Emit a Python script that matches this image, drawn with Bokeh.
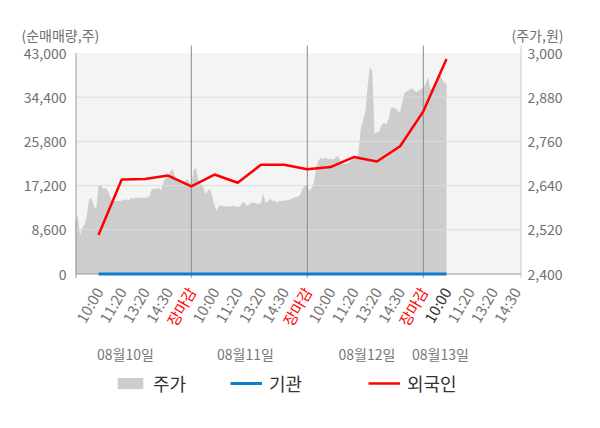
from bokeh.plotting import figure
from bokeh.models import Range1d, Legend, LegendItem
from bokeh.core.properties import value
from bokeh.embed import file_html
from bokeh.resources import INLINE

FONT = "Noto Sans CJK KR"

# ---------------- data ----------------
dates = ["08월10일", "08월11일", "08월12일", "08월13일"]
x_tick_labels = ["10:00", "11:20", "13:20", "14:30", "장마감",
                 "10:00", "11:20", "13:20", "14:30", "장마감",
                 "10:00", "11:20", "13:20", "14:30", "장마감",
                 "10:00", "11:20", "13:20", "14:30"]
left_ticks = [0, 8600, 17200, 25800, 34400, 43000]
right_ticks = [2400, 2520, 2640, 2760, 2880, 3000]

price_day1 = [2540, 2560, 2505, 2525, 2535, 2560, 2605, 2604, 2585, 2574,
              2640, 2640, 2630, 2634, 2626, 2610, 2595, 2598, 2599, 2599,
              2599, 2602, 2602, 2600, 2607, 2604, 2607, 2607, 2607, 2607,
              2607, 2607, 2612, 2630, 2632, 2630, 2634, 2626, 2650, 2660,
              2665, 2678, 2685, 2660, 2656, 2652, 2648, 2650, 2658, 2652]
price_day2 = [2640, 2682, 2688, 2654, 2645, 2640, 2617, 2625, 2632, 2612,
              2585, 2572, 2586, 2586, 2583, 2583, 2583, 2583, 2586, 2584,
              2582, 2584, 2594, 2594, 2585, 2588, 2594, 2594, 2592, 2590,
              2592, 2619, 2594, 2597, 2605, 2598, 2599, 2595, 2599, 2598,
              2599, 2600, 2601, 2603, 2608, 2608, 2610, 2616, 2632, 2642]
price_day3 = [2640, 2625, 2635, 2654, 2695, 2710, 2715, 2712, 2717, 2711,
              2713, 2711, 2715, 2721, 2712, 2699, 2699, 2699, 2703, 2710,
              2715, 2712, 2726, 2795, 2817, 2840, 2910, 2963, 2949, 2780,
              2785, 2787, 2804, 2810, 2806, 2820, 2850, 2852, 2850, 2842,
              2840, 2870, 2892, 2896, 2900, 2904, 2900, 2893, 2898, 2902]
price_day4 = [2905, 2917, 2935, 2905, 2901, 2903, 2920, 2945, 2930, 2920, 2917]

foreign = [7600, 18400, 18500, 19150, 17050, 19350, 17750, 21250,
           21250, 20400, 20800, 22750, 21900, 24850, 31650, 41850]
institution = [0, 0, 0, 0, 0, 0, 0, 0, 0, 0, 0, 0, 0, 0, 0, 0]

# ---------------- derived positions ----------------
DAY_UNITS = 5
SAMPLES_PER_DAY = 50
price_x, price_y = [], []
for d, arr in enumerate([price_day1, price_day2, price_day3, price_day4]):
    for i, v in enumerate(arr):
        price_x.append(d * DAY_UNITS + i * DAY_UNITS / SAMPLES_PER_DAY)
        price_y.append(v)
flow_x = list(range(1, len(foreign) + 1))
tick_x = list(range(1, len(x_tick_labels) + 1))
day_bounds = [DAY_UNITS * k for k in range(1, len(dates))]

# ---------------- geometry (page pixels) ----------------
W, H = 600, 428
PLOT_L, PLOT_R = 75.5, 520.5      # plot-area edges
ZERO_Y, TOP_Y = 273.5, 52.5       # y of 0 and of 43,000 / 3,000
FRAME_TOP = 45                    # top of day separators / right axis line
X0, X1 = 0.03, 19.21              # x extent of plot area (data units)

ux = (PLOT_R - PLOT_L) / (X1 - X0)
uy = (ZERO_Y - TOP_Y) / left_ticks[-1]
up = (ZERO_Y - TOP_Y) / (right_ticks[-1] - right_ticks[0])


def xd(px):
    return X0 + (px - PLOT_L) / ux


def yd(py):
    return (ZERO_Y - py) / uy


p = figure(width=W, height=H, output_backend="svg", toolbar_location=None,
           x_range=Range1d(xd(0), xd(W)), y_range=Range1d(yd(H), yd(0)),
           min_border=0, outline_line_color=None,
           background_fill_color="white", border_fill_color="white")
p.extra_y_ranges = {"price": Range1d(right_ticks[0] - (H - ZERO_Y) / up,
                                     right_ticks[0] + ZERO_Y / up)}
p.axis.visible = False
p.grid.visible = False

# plot background band
p.quad(left=X0, right=X1, bottom=0, top=left_ticks[-1],
       fill_color="#f4f4f4", line_color=None)

# price area
area = p.varea(x=price_x, y1=right_ticks[0], y2=price_y, y_range_name="price",
               fill_color="#cdcdcd")

# grid lines and day separators
p.segment(x0=X0, x1=X1, y0=left_ticks[1:-1], y1=left_ticks[1:-1],
          line_color="#dcdcdc", line_width=1)
p.segment(x0=day_bounds, x1=day_bounds, y0=0, y1=yd(FRAME_TOP),
          line_color="#8a8a8a", line_width=1)

# axes lines and small ticks
p.segment(x0=[X0], x1=[X0], y0=[yd(ZERO_Y + 4)], y1=[left_ticks[-1]],
          line_color="#999999", line_width=1)
p.segment(x0=[X1], x1=[X1], y0=[yd(ZERO_Y + 4)], y1=[yd(FRAME_TOP)],
          line_color="#cccccc", line_width=1)
p.segment(x0=[X0], x1=[X1], y0=[0], y1=[0], line_color="#999999", line_width=1)
p.segment(x0=day_bounds, x1=day_bounds, y0=0, y1=yd(ZERO_Y + 4),
          line_color="#999999", line_width=1)

# investor flows
blue = p.line(flow_x, institution, line_color="#0e7dca", line_width=3)
red = p.line(flow_x, foreign, line_color="#ff0000", line_width=2.5)

# y tick labels
p.text(x=xd(66), y=left_ticks, text=[f"{v:,}" for v in left_ticks],
       text_align="right", text_baseline="middle", text_font=value(FONT),
       text_font_size="14px", text_color="#707070")
p.text(x=xd(527), y=right_ticks, text=[f"{v:,}" for v in right_ticks],
       y_range_name="price", text_align="left", text_baseline="middle",
       text_font=value(FONT), text_font_size="14px", text_color="#707070")

# unit titles
p.text(x=[xd(21)], y=[yd(34)], text=["(순매매량,주)"], text_align="left",
       text_baseline="middle", text_font=value(FONT), text_font_size="14px",
       text_color="#707070")
p.text(x=[xd(563)], y=[yd(34)], text=["(주가,원)"], text_align="right",
       text_baseline="middle", text_font=value(FONT), text_font_size="14px",
       text_color="#707070")

# rotated time labels
tick_colors = ["#ff0000" if t == "장마감" else "#777777" for t in x_tick_labels]
tick_colors[len(foreign) - 1] = "#333333"
p.text(x=tick_x, y=yd(288), text=x_tick_labels, text_color=tick_colors,
       angle=60, angle_units="deg", text_align="right", text_baseline="middle",
       text_font=value(FONT), text_font_size="15px")

# date labels
date_pos = [xd(125), xd(245), xd(366.5), xd(440)]
p.text(x=date_pos, y=yd(353), text=dates, text_color="#777777",
       text_align="center", text_baseline="middle",
       text_font=value(FONT), text_font_size="14px")

# legend (three separate entries)
for lab, rend, off in [("주가", area, 114), ("기관", blue, 230), ("외국인", red, 368)]:
    lg = Legend(items=[LegendItem(label=lab, renderers=[rend])],
                location=(off, H - 386 - 10), orientation="horizontal",
                glyph_width=32, glyph_height=14, label_standoff=7,
                label_text_font=FONT, label_text_font_size="18px",
                label_text_color="#333333", padding=0, margin=0, spacing=0,
                border_line_color=None, background_fill_alpha=0)
    p.add_layout(lg, "center")

open("out.html", "w").write(file_html(p, INLINE))
